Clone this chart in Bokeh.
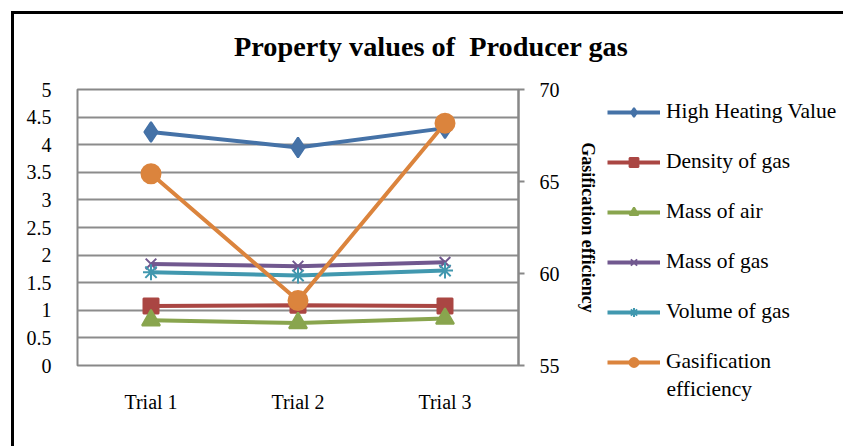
from bokeh.plotting import figure
from bokeh.layouts import row, column
from bokeh.models import (Range1d, LinearAxis, Legend, LegendItem, Div, Label,
                          FixedTicker, ColumnDataSource)
from bokeh.embed import file_html
from bokeh.resources import INLINE

trials = ["Trial 1", "Trial 2", "Trial 3"]
high_heating_value = [4.23, 3.95, 4.30]
density_of_gas = [1.08, 1.09, 1.08]
mass_of_air = [0.82, 0.77, 0.85]
mass_of_gas = [1.84, 1.80, 1.87]
volume_of_gas = [1.69, 1.63, 1.72]
gasification_efficiency = [65.42, 58.53, 68.17]

left_ticks = [0, 0.5, 1, 1.5, 2, 2.5, 3, 3.5, 4, 4.5, 5]
right_ticks = [55, 60, 65, 70]

FONT = "Liberation Serif"

title = Div(
    text=('<div style="margin-left:220px; margin-top:19px; '
          "font-family:'Liberation Serif'; font-weight:bold; font-size:28.3px; "
          'line-height:28px; white-space:pre; color:black;">'
          "Property values of  Producer gas</div>"),
    width=829, height=50, margin=0)

p = figure(x_range=trials, y_range=Range1d(0, 5), width=586, height=382,
           output_backend="svg", toolbar_location=None,
           min_border_left=63, min_border_top=25, min_border_right=78,
           min_border_bottom=81, margin=0)
p.frame_align = False
p.title.visible = False
p.extra_y_ranges = {"eff": Range1d(55, 70)}
p.x_range.range_padding = 0
p.outline_line_color = "#888888"
p.outline_line_width = 2
p.background_fill_color = "white"
p.border_fill_color = "white"

p.xgrid.grid_line_color = None
p.ygrid.ticker = FixedTicker(ticks=left_ticks)
p.ygrid.grid_line_color = "#8c8c8c"
p.ygrid.grid_line_width = 2

p.yaxis.ticker = FixedTicker(ticks=left_ticks)
p.yaxis.major_tick_line_color = None
p.yaxis.minor_tick_line_color = None
p.yaxis.axis_line_color = None
p.yaxis.major_label_standoff = 20
p.yaxis.major_label_text_font = FONT
p.yaxis.major_label_text_font_size = "20px"
p.yaxis.major_label_text_color = "black"

p.xaxis.major_tick_line_color = None
p.xaxis.axis_line_color = None
p.xaxis.major_label_standoff = 19
p.xaxis.major_label_text_font = FONT
p.xaxis.major_label_text_font_size = "20px"
p.xaxis.major_label_text_color = "black"

ax2 = LinearAxis(y_range_name="eff", ticker=FixedTicker(ticks=right_ticks))
ax2.axis_line_color = "#888888"
ax2.axis_line_width = 2
ax2.major_tick_line_color = "#888888"
ax2.major_tick_line_width = 2
ax2.major_tick_out = 6
ax2.major_tick_in = 0
ax2.minor_tick_line_color = None
ax2.major_label_standoff = 15
ax2.major_label_text_font = FONT
ax2.major_label_text_font_size = "20px"
ax2.major_label_text_color = "black"
ax2.axis_label = "Gasification efficiency"
ax2.axis_label_standoff = 15
ax2.axis_label_text_font = FONT
ax2.axis_label_text_font_size = "18px"
ax2.axis_label_text_font_style = "bold"
ax2.axis_label_text_color = "black"
p.add_layout(ax2, "right")

# legend panel: a second figure whose frame fills its canvas
q = figure(x_range=trials, y_range=Range1d(1000, 1001), width=242, height=382,
           output_backend="svg", toolbar_location=None,
           min_border=0, margin=0)
q.frame_align = False
q.title.visible = False
q.xaxis.visible = False
q.yaxis.visible = False
q.xgrid.visible = False
q.ygrid.visible = False
q.outline_line_color = None
q.extra_y_ranges = {"eff": Range1d(1000, 1001)}

series = [
    ("High Heating Value", high_heating_value, "#4572A7", "diamond", 20, "default"),
    ("Density of gas", density_of_gas, "#AA4643", "square", 15, "default"),
    ("Mass of air", mass_of_air, "#89A54E", "triangle", 18, "default"),
    ("Mass of gas", mass_of_gas, "#71588F", "x", 15, "default"),
    ("Volume of gas", volume_of_gas, "#4198AF", "asterisk", 16, "default"),
    ("Gasification", gasification_efficiency, "#DB843D", "circle", 19, "eff"),
]

items = []
for name, vals, color, marker, size, rng in series:
    src = ColumnDataSource(dict(x=trials, y=vals))
    p.line("x", "y", source=src, line_color=color, line_width=4,
           y_range_name=rng)
    p.scatter("x", "y", source=src, marker=marker, size=size,
              fill_color=color, line_color=color, line_width=2,
              y_range_name=rng)
    lq = q.line("x", "y", source=src, line_color=color, line_width=4,
                y_range_name=rng)
    sq = q.scatter("x", "y", source=src, marker=marker, size=size,
                   fill_color=color, line_color=color, line_width=2,
                   y_range_name=rng)
    items.append(LegendItem(label=name, renderers=[lq, sq]))

legend = Legend(items=items, location=(7, 72), orientation="vertical",
                glyph_width=53, glyph_height=22, label_height=22,
                label_standoff=6, spacing=25, padding=0, margin=0,
                border_line_alpha=0, background_fill_alpha=0,
                label_text_font=FONT, label_text_font_size="21.5px",
                label_text_color="black")
q.add_layout(legend, "center")

q.add_layout(Label(x=66, y=58, x_units="screen", y_units="screen",
                   text="efficiency", text_font=FONT,
                   text_font_size="21.5px", text_baseline="middle",
                   text_align="left", text_color="black"))

layout = column(title, row(p, q, margin=0, spacing=0), margin=(11, 0, 0, 11),
                spacing=0)
layout.styles = {"border-left": "3px solid black",
                 "border-top": "3px solid black", "background": "white"}
open("out.html", "w").write(file_html(layout, INLINE))
